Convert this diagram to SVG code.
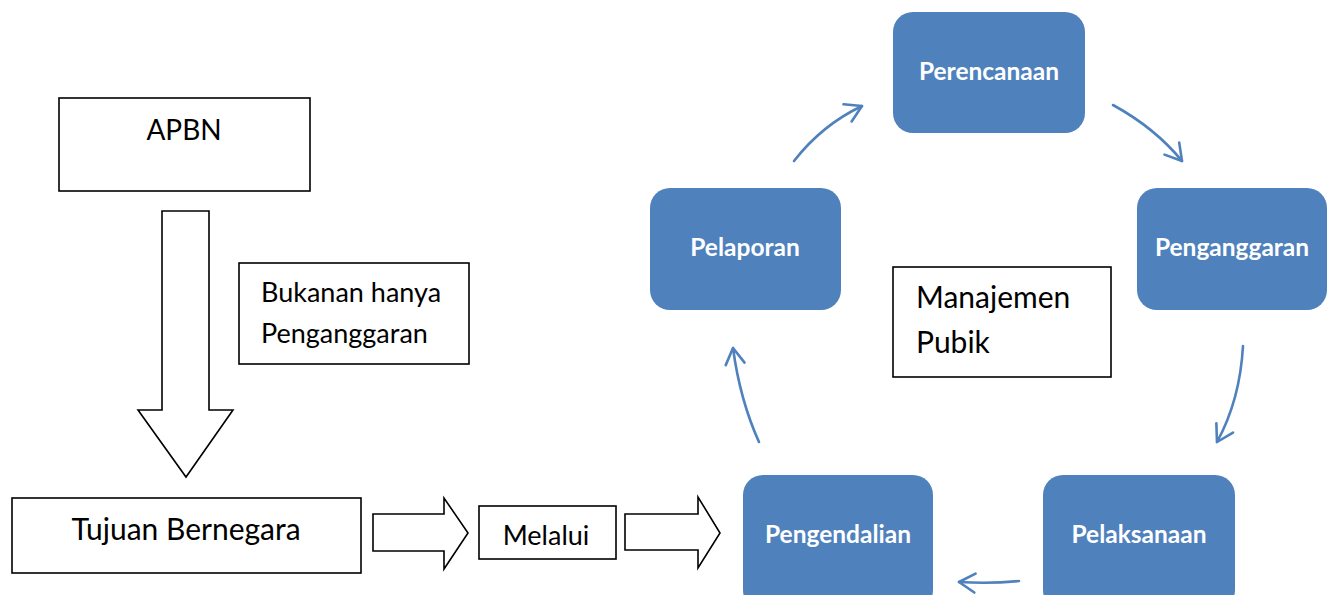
<svg xmlns="http://www.w3.org/2000/svg" width="1333" height="595" viewBox="0 0 1333 595">
<style>
.box{fill:#fff;stroke:#000;stroke-width:1.6}
.blk{fill:#fff;stroke:#000;stroke-width:1.6;stroke-linejoin:miter}
.t{font-family:Lato,"Liberation Sans",sans-serif;fill:#000}
.blue{fill:#4F81BD;stroke:none}
.wt{font-family:Lato,"Liberation Sans",sans-serif;fill:#fff;font-size:24.5px;font-weight:bold;text-anchor:middle}
.con{fill:none;stroke:#4F81BD;stroke-width:2.6;stroke-linecap:round}
</style>
<defs>
<marker id="ah" markerUnits="userSpaceOnUse" viewBox="-20 -12 24 24" refX="0" refY="0" markerWidth="24" markerHeight="24" orient="auto">
<path d="M-16,-9.5 L0,0 L-16,9.5" fill="none" stroke="#4F81BD" stroke-width="2.6" stroke-linecap="round" stroke-linejoin="round"/>
</marker>
</defs>
<g id="apbn"><rect class="box" x="59" y="98" width="251" height="93"/><text class="t" x="184" y="140" font-size="28" text-anchor="middle">APBN</text></g>
<g id="bukanan"><rect class="box" x="239" y="263" width="230" height="101"/><text class="t" x="261" y="302" font-size="27">Bukanan hanya</text><text class="t" x="261" y="343" font-size="27">Penganggaran</text></g>
<g id="tujuan"><rect class="box" x="12" y="498" width="349" height="75"/><text class="t" x="186" y="540" font-size="30" text-anchor="middle">Tujuan Bernegara</text></g>
<g id="melalui"><rect class="box" x="479" y="506" width="137" height="53"/><text class="t" x="546" y="545" font-size="27" text-anchor="middle">Melalui</text></g>
<g id="manajemen"><rect class="box" x="893" y="267" width="218" height="110"/><text class="t" x="916" y="308" font-size="30">Manajemen</text><text class="t" x="916" y="353" font-size="30">Pubik</text></g>
<g id="perencanaan"><rect class="blue" x="893" y="12" width="192" height="121" rx="20"/><text class="wt" x="989" y="80">Perencanaan</text></g>
<g id="penganggaran"><rect class="blue" x="1137" y="188" width="190" height="122" rx="20"/><text class="wt" x="1232" y="256">Penganggaran</text></g>
<g id="pelaksanaan"><rect class="blue" x="1043" y="475" width="192" height="135" rx="20"/><text class="wt" x="1139" y="543">Pelaksanaan</text></g>
<g id="pengendalian"><rect class="blue" x="743" y="475" width="190" height="135" rx="20"/><text class="wt" x="838" y="543">Pengendalian</text></g>
<g id="pelaporan"><rect class="blue" x="650" y="188" width="191" height="122" rx="20"/><text class="wt" x="745" y="256">Pelaporan</text></g>
<g id="connectors">
<polygon class="blk" points="162,211 209,211 209,410 233,410 186,477 138,410 162,410"/>
<polygon class="blk" points="373,514 444,514 444,498 468,533 444,569 444,551 373,551"/>
<polygon class="blk" points="625,514 698,514 698,497 720,533 698,568 698,550 625,550"/>
<path class="con" d="M794,161 Q822,125 862,106" marker-end="url(#ah)"/>
<path class="con" d="M1113,105 Q1155,128 1182,161" marker-end="url(#ah)"/>
<path class="con" d="M1243,346 Q1240,400 1217,442" marker-end="url(#ah)"/>
<path class="con" d="M1019,581 Q990,584 959,582" marker-end="url(#ah)"/>
<path class="con" d="M759,442 Q740,400 733,348" marker-end="url(#ah)"/>
</g>
</svg>
